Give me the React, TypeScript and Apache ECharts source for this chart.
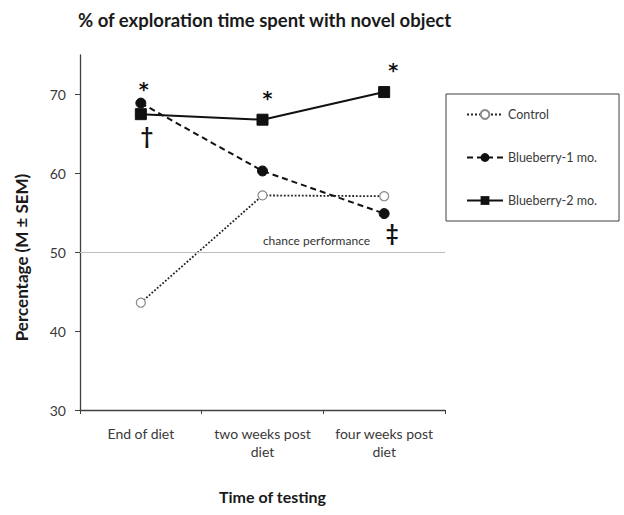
import React, { useEffect, useRef } from "react";
import * as echarts from "echarts";

const categories = ["End of diet", "two weeks post\ndiet", "four weeks post\ndiet"];
const controlValues = [43.6, 57.2, 57.1];
const blueberry1Values = [68.9, 60.3, 54.9];
const blueberry2Values = [67.5, 66.8, 70.3];
const blueberry1Marks = ["*", "", "‡"];
const blueberry2Marks = ["†", "*", "*"];
const yTicks = [30, 40, 50, 60, 70];
const chanceLevel = 50;

const FONT = "Lato";
const TEXT = "#3a3a3a";

export default function App() {
  const ref = useRef<HTMLDivElement>(null);
  useEffect(() => {
    if (!ref.current) return;
    const chart = echarts.init(ref.current, null, { renderer: "svg" });
    const markLabel = (txt: string, pos: "top" | "bottom", dist: number, dx: number, dy: number) =>
      txt
        ? {
            show: true,
            formatter: txt,
            position: pos,
            distance: dist,
            offset: [dx, dy],
            color: "#111",
            fontSize: txt === "*" ? 19 : 22,
            fontFamily: txt === "*" ? "DejaVu Sans" : FONT,
            fontWeight: "bold" as const,
          }
        : { show: false };
    chart.setOption({
      animation: false,
      backgroundColor: "#fff",
      textStyle: { fontFamily: FONT },
      title: {
        text: "% of exploration time spent with novel object",
        left: 73,
        top: 5,
        textStyle: { fontFamily: FONT, fontSize: 18.5, fontWeight: "bold", color: "#1a1a1a" },
      },
      grid: { left: 80, right: 179, top: 55, bottom: 105, containLabel: false },
      legend: {
        orient: "vertical",
        left: 446,
        top: 94,
        padding: [14, 22, 14, 20],
        itemGap: 30,
        itemWidth: 36,
        itemHeight: 11,
        borderColor: "#404040",
        borderWidth: 1,
        textStyle: { fontFamily: FONT, fontSize: 12.5, color: TEXT },
        data: ["Control", "Blueberry-1 mo.", "Blueberry-2 mo."],
      },
      xAxis: {
        type: "category",
        data: categories,
        boundaryGap: true,
        name: "Time of testing",
        nameLocation: "middle",
        nameGap: 78,
        nameTextStyle: { fontFamily: FONT, fontSize: 16, fontWeight: "bold", color: "#1a1a1a", padding: [0, 0, 0, 20] },
        axisLine: { lineStyle: { color: "#404040", width: 1.3 } },
        axisTick: { show: true, length: 4, alignWithLabel: false, lineStyle: { color: "#404040" } },
        axisLabel: { fontFamily: FONT, fontSize: 14, color: TEXT, margin: 14, lineHeight: 18, interval: 0 },
        splitLine: { show: false },
      },
      yAxis: {
        type: "value",
        min: 30,
        max: 75,
        interval: 10,
        name: "Percentage (M ± SEM)",
        nameLocation: "middle",
        nameGap: 50,
        nameRotate: 90,
        nameTextStyle: { fontFamily: FONT, fontSize: 17, fontWeight: "bold", color: "#1a1a1a", padding: [0, 50, 0, 0] },
        axisLine: { show: true, lineStyle: { color: "#404040", width: 1.3 } },
        axisTick: { show: true, length: 5, customValues: yTicks, lineStyle: { color: "#404040" } },
        axisLabel: { fontFamily: FONT, fontSize: 14, color: TEXT, margin: 14, customValues: yTicks },
        splitLine: { show: false },
      },
      series: [
        {
          name: "Control",
          type: "line",
          data: controlValues,
          symbol: "circle",
          symbolSize: 9,
          lineStyle: { color: "#222", width: 1.8, type: "dotted" },
          itemStyle: { color: "#fff", borderColor: "#8a8a8a", borderWidth: 1.2 },
          z: 3,
          markLine: {
            silent: true,
            symbol: "none",
            lineStyle: { color: "#bdbdbd", width: 1.2, type: "solid" },
            label: {
              show: true,
              formatter: "chance performance",
              position: "insideMiddleTop",
              offset: [54, -1],
              color: "#333",
              fontFamily: FONT,
              fontSize: 12,
            },
            data: [{ yAxis: chanceLevel }],
          },
        },
        {
          name: "Blueberry-1 mo.",
          type: "line",
          data: blueberry1Values.map((v, i) => ({
            value: v,
            label:
              i === 0
                ? markLabel(blueberry1Marks[i], "top", 0, 3, 1)
                : markLabel(blueberry1Marks[i], "bottom", 2, 8, 0),
          })),
          symbol: "circle",
          symbolSize: 10,
          lineStyle: { color: "#111", width: 2, type: [6, 4] },
          itemStyle: { color: "#111", borderColor: "#111" },
          z: 4,
        },
        {
          name: "Blueberry-2 mo.",
          type: "line",
          data: blueberry2Values.map((v, i) => ({
            value: v,
            label:
              i === 0
                ? markLabel(blueberry2Marks[i], "bottom", 4, 6, 0)
                : markLabel(blueberry2Marks[i], "top", 4, i === 2 ? 9 : 5, i === 2 ? -3 : -2),
          })),
          symbol: "rect",
          symbolSize: 11,
          lineStyle: { color: "#111", width: 2, type: "solid" },
          itemStyle: { color: "#111", borderColor: "#111" },
          z: 5,
        },
      ],
    });
    return () => chart.dispose();
  }, []);
  return <div ref={ref} style={{ position: "fixed", left: 0, top: 0, width: 624, height: 515 }} />;
}
